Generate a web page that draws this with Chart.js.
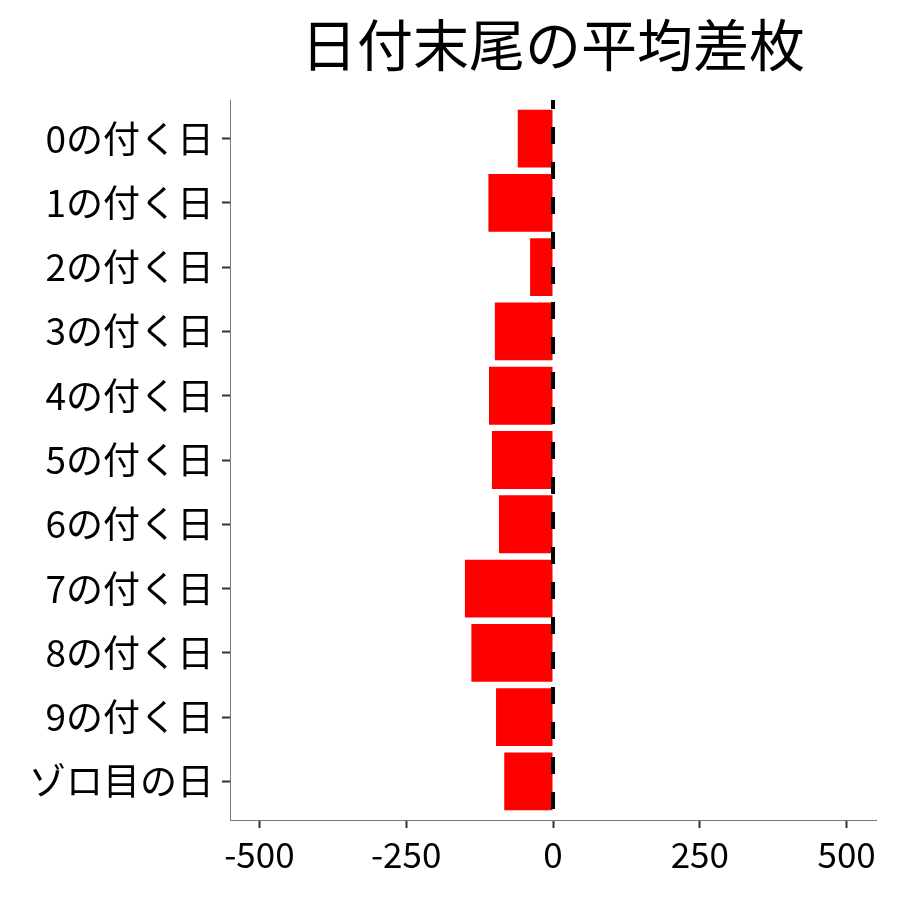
<!DOCTYPE html>
<html>
<head>
<meta charset="utf-8">
<script src="https://cdn.jsdelivr.net/npm/chart.js@4"></script>
<style>
  html, body { margin: 0; padding: 0; background: #fff; }
  #wrap { width: 900px; height: 900px; }
</style>
</head>
<body>
<div id="wrap"><canvas id="chart"></canvas></div>
<script>
const chartTitle = '日付末尾の平均差枚';
const categories = ['0の付く日', '1の付く日', '2の付く日', '3の付く日', '4の付く日', '5の付く日',
  '6の付く日', '7の付く日', '8の付く日', '9の付く日', 'ゾロ目の日'];
const avgDiff = [-60, -110, -39, -99, -109, -104, -92, -150, -139, -97, -83];
const xTicks = [-500, -250, 0, 250, 500];

const FONT = '"Noto Sans CJK JP", "Noto Sans", sans-serif';

// title centred over the plot panel, dashed line at zero
const extras = {
  id: 'extras',
  afterDatasetsDraw(chart) {
    const { ctx, chartArea, scales } = chart;
    const x0 = scales.x.getPixelForValue(0);
    ctx.save();
    ctx.strokeStyle = '#000';
    ctx.lineWidth = 4;
    ctx.setLineDash([17, 18]);
    ctx.lineDashOffset = 8;
    ctx.beginPath();
    ctx.moveTo(x0, chartArea.top);
    ctx.lineTo(x0, chartArea.bottom);
    ctx.stroke();
    ctx.restore();
  },
  afterDraw(chart) {
    const { ctx, chartArea } = chart;
    ctx.save();
    ctx.fillStyle = '#000';
    ctx.font = '56px ' + FONT;
    ctx.textAlign = 'center';
    ctx.textBaseline = 'middle';
    ctx.fillText(chartTitle, (chartArea.left + chartArea.right) / 2, 45);
    ctx.restore();
  }
};

new Chart(document.getElementById('chart'), {
  type: 'bar',
  data: {
    datasets: [{
      data: avgDiff.map((v, i) => ({ x: v, y: i })),
      backgroundColor: '#ff0000',
      borderWidth: 0,
      barPercentage: 0.9,
      categoryPercentage: 1.0
    }]
  },
  options: {
    indexAxis: 'y',
    responsive: true,
    maintainAspectRatio: false,
    animation: false,
    layout: { padding: { top: 100, right: 24, left: 0, bottom: 0 } },
    plugins: { legend: { display: false }, tooltip: { enabled: false } },
    scales: {
      x: {
        type: 'linear',
        min: -550,
        max: 550,
        afterBuildTicks: s => { s.ticks = xTicks.map(v => ({ value: v })); },
        afterFit: s => { s.height = 80; },
        grid: { drawOnChartArea: false, drawTicks: true, tickLength: 8, tickColor: '#333', tickWidth: 2 },
        border: { color: '#777', width: 1 },
        ticks: { color: '#000', padding: 6, font: { family: FONT, size: 35 } }
      },
      y: {
        type: 'linear',
        min: -0.6,
        max: 10.6,
        reverse: true,
        offset: false,
        afterBuildTicks: s => { s.ticks = categories.map((c, i) => ({ value: i })); },
        afterFit: s => { s.width = 230; },
        grid: { offset: false, drawOnChartArea: false, drawTicks: true, tickLength: 8, tickColor: '#333', tickWidth: 2 },
        border: { color: '#777', width: 1 },
        ticks: {
          color: '#000',
          padding: 8,
          font: { family: FONT, size: 37 },
          callback: v => categories[v]
        }
      }
    }
  },
  plugins: [extras]
});
</script>
</body>
</html>
